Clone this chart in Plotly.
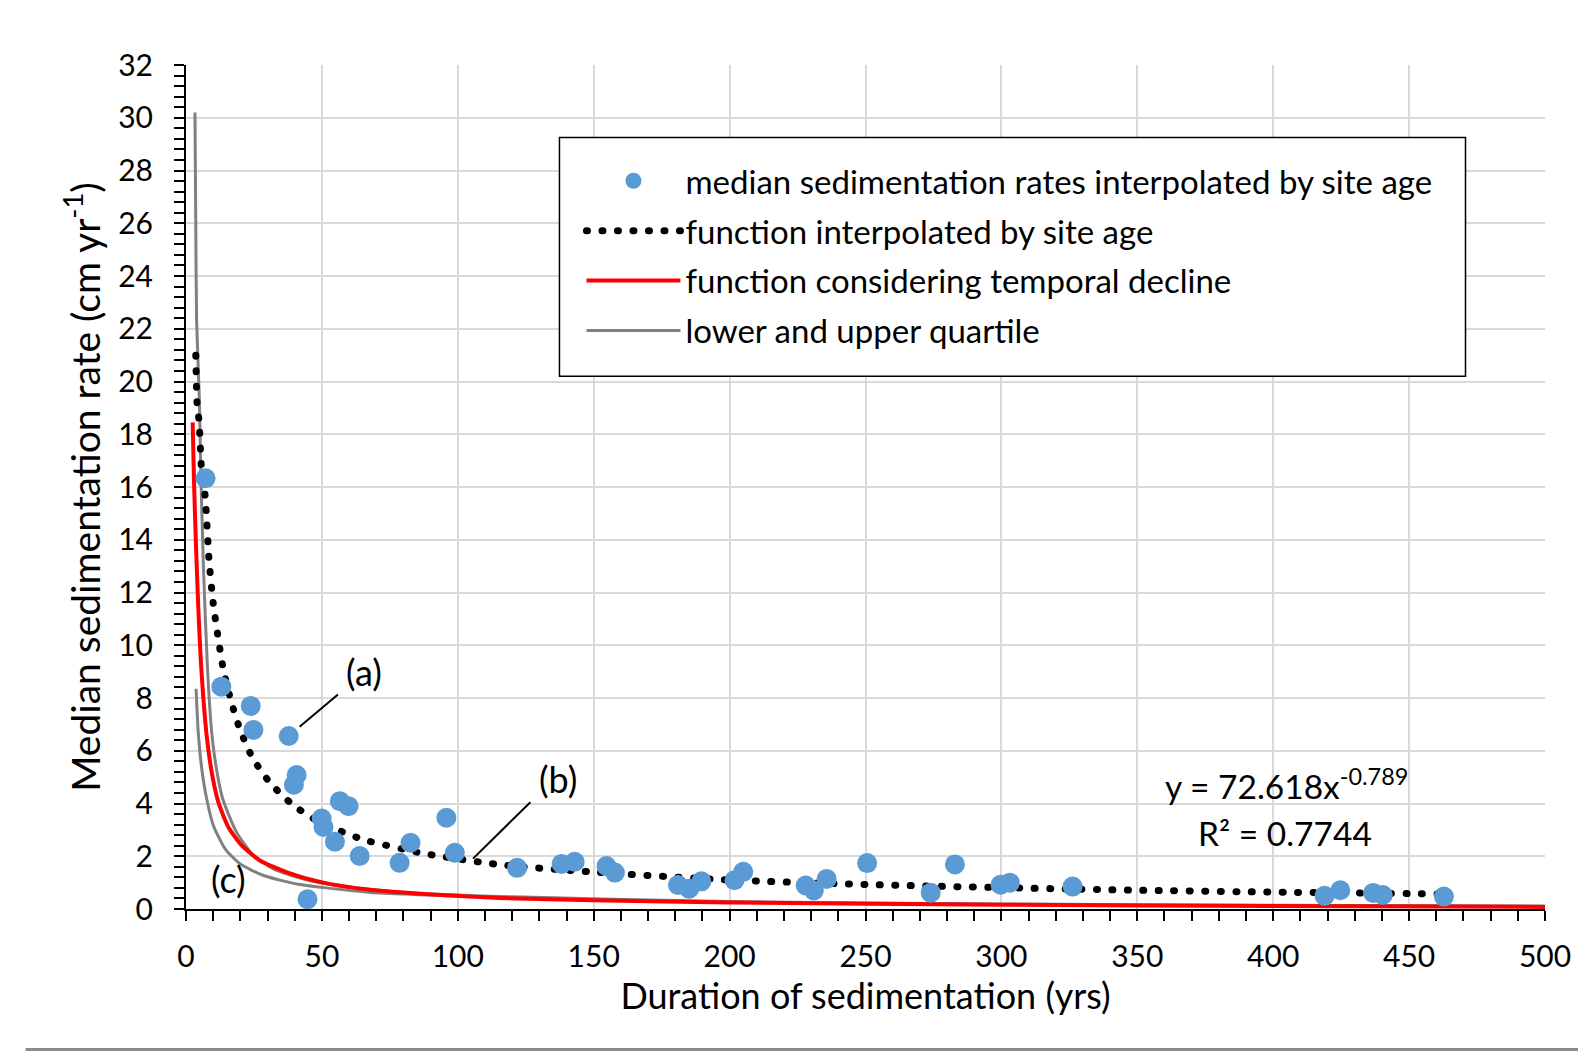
import plotly.graph_objects as go

# --- data ---
site_age = [7.2, 13.0, 23.8, 24.8, 37.8, 40.7, 39.7, 56.6, 59.8, 49.9, 50.6, 54.8, 63.9, 78.6,
            82.6, 95.8, 98.9, 44.7, 121.8, 138.2, 143.0, 154.7, 157.8, 181.0, 185.1, 189.6,
            201.8, 205.0, 228.0, 231.0, 235.7, 250.6, 274.0, 282.9, 299.7, 303.1, 326.2,
            418.9, 424.7, 436.8, 440.3, 462.8]
median_rate = [16.33, 8.43, 7.70, 6.79, 6.56, 5.08, 4.71, 4.09, 3.90, 3.43, 3.11, 2.55, 2.01, 1.75,
               2.51, 3.46, 2.13, 0.37, 1.56, 1.71, 1.79, 1.63, 1.38, 0.91, 0.77, 1.05,
               1.09, 1.41, 0.89, 0.70, 1.14, 1.74, 0.62, 1.69, 0.92, 1.00, 0.85,
               0.50, 0.71, 0.61, 0.53, 0.47]

fit_x = [3.6, 4.1, 4.8, 5.7, 7.0, 8.5, 10.0, 11.8, 13.7, 16.4, 19.8, 24.5, 31.1, 39.4, 49.0,
         65.0, 87.3, 115.5, 150, 200, 250, 300, 350, 400, 462]
fit_y = [21.0, 19.1, 18.5, 16.7, 15.7, 13.2, 11.6, 10.3, 9.1, 7.95, 6.82, 5.73, 4.76, 3.94, 3.30,
         2.64, 2.11, 1.68, 1.40, 1.10, 0.93, 0.81, 0.71, 0.64, 0.57]

decline_x = [2.45, 2.95, 3.7, 4.5, 5.4, 6.4, 7.6, 9.45, 11.9, 15.6, 20.5, 27.2, 37.1, 50.1,
             67.7, 92.3, 115.6, 150, 200, 300, 400, 500]
decline_y = [18.45, 16.2, 13.7, 11.5, 9.5, 7.97, 6.58, 5.19, 4.05, 3.10, 2.41, 1.84, 1.39, 1.01,
             0.73, 0.54, 0.42, 0.33, 0.25, 0.16, 0.11, 0.08]

lower_x = [3.7, 4.5, 5.8, 7.6, 10.1, 14.4, 19.9, 28.5, 40.7, 50.1, 67.7, 115.6, 150, 200, 300, 400, 500]
lower_y = [8.35, 6.71, 5.32, 4.18, 3.16, 2.28, 1.71, 1.27, 0.95, 0.82, 0.63, 0.44, 0.34, 0.26, 0.17, 0.12, 0.09]

upper_x = [3.3, 3.6, 3.9, 4.9, 5.4, 6.4, 7.85, 9.45, 11.0, 13.5, 18.6, 24.8, 32.1, 43.2, 55.5,
           80, 120, 200, 300, 400, 500]
upper_y = [30.2, 26.0, 22.3, 19.4, 16.8, 13.0, 9.24, 6.7, 5.44, 4.18, 2.91, 2.03, 1.52, 1.14, 0.89,
           0.63, 0.46, 0.28, 0.19, 0.14, 0.11]

x_ticks = [0, 50, 100, 150, 200, 250, 300, 350, 400, 450, 500]
y_ticks = list(range(0, 33, 2))

FONT = "Lato"

fig = go.Figure()

fig.add_trace(go.Scatter(
    x=upper_x, y=upper_y, mode="lines", name="lower and upper quartile",
    line=dict(color="#808080", width=3, shape="spline", smoothing=0.6),
    showlegend=False, legendgroup="q"))
fig.add_trace(go.Scatter(
    x=lower_x, y=lower_y, mode="lines", name="lower and upper quartile",
    line=dict(color="#808080", width=3, shape="spline", smoothing=0.6),
    legendgroup="q", legendrank=4))
fig.add_trace(go.Scatter(
    x=decline_x, y=decline_y, mode="lines", name="function considering temporal decline",
    line=dict(color="#ff0000", width=4, shape="spline", smoothing=0.6),
    legendgroup="r", legendrank=3))
fig.add_trace(go.Scatter(
    x=fit_x, y=fit_y, mode="lines", name="function interpolated by site age",
    line=dict(color="black", width=7, dash="1px,14.5px", shape="spline", smoothing=0.6),
    legendgroup="f", legendrank=2))
fig.add_trace(go.Scatter(
    x=site_age, y=median_rate, mode="markers",
    name="median sedimentation rates interpolated by site age",
    marker=dict(color="#5b9bd5", size=20, line=dict(width=0)),
    legendgroup="m", legendrank=1))

axis_common = dict(
    showline=True, linecolor="black", linewidth=2,
    ticks="outside", ticklen=10, tickwidth=2, tickcolor="black",
    showgrid=True, gridcolor="#d9d9d9", gridwidth=2, zeroline=False,
    tickfont=dict(family=FONT, size=30, color="black"),
    automargin=False,
)

fig.update_xaxes(
    range=[0, 500], tickvals=x_ticks, ticktext=[str(v) for v in x_ticks],
    minor=dict(dtick=10, ticks="outside", ticklen=10, tickwidth=2, tickcolor="black", showgrid=False),
    title=dict(text="Duration of sedimentation (yrs)", font=dict(family=FONT, size=36, color="black"), standoff=4),
    ticklabelstandoff=10,
    **axis_common)
fig.update_yaxes(
    range=[0, 32], tickvals=y_ticks, ticktext=[str(v) for v in y_ticks],
    minor=dict(dtick=0.4, ticks="outside", ticklen=10, tickwidth=2, tickcolor="black", showgrid=False),
    title=dict(text="Median sedimentation rate (cm yr<sup>-1</sup>)", font=dict(family=FONT, size=39, color="black"), standoff=6),
    ticklabelstandoff=15,
    **axis_common)

# annotation leader lines and labels
fig.add_shape(type="line", xref="x", yref="y", x0=41.8, y0=6.91, x1=55.9, y1=8.13,
              line=dict(color="black", width=2))
fig.add_shape(type="line", xref="x", yref="y", x0=105.6, y0=1.91, x1=126.7, y1=4.05,
              line=dict(color="black", width=2))
for txt, ax_, ay_ in [("(a)", 65.4, 8.98), ("(b)", 136.7, 4.92), ("(c)", 15.6, 1.15)]:
    fig.add_annotation(x=ax_, y=ay_, xref="x", yref="y", text=txt, showarrow=False,
                       font=dict(family=FONT, size=36, color="black"))
fig.add_annotation(x=404.8, y=4.75, xref="x", yref="y", text="y = 72.618x<sup>-0.789</sup>",
                   showarrow=False, font=dict(family=FONT, size=33.5, color="black"))
fig.add_annotation(x=404.5, y=2.9, xref="x", yref="y", text="R² = 0.7744",
                   showarrow=False, font=dict(family=FONT, size=33.5, color="black"))

# legend frame
fig.add_shape(type="rect", xref="paper", yref="paper", x0=0.2748, x1=0.9415, y0=0.6313, y1=0.914,
              fillcolor="white", line=dict(color="black", width=1.5), layer="above")

# faint frame line at the bottom of the original image
fig.add_shape(type="line", xref="paper", yref="paper", x0=-0.118, x1=1.03, y0=-0.1665, y1=-0.1665,
              line=dict(color="#8c8c8c", width=3))

fig.update_layout(
    width=1578, height=1052,
    margin=dict(l=186, r=33, t=65, b=143, autoexpand=False),
    paper_bgcolor="white", plot_bgcolor="white",
    font=dict(family=FONT, color="black"),
    legend=dict(
        x=0.2748, y=0.896, xanchor="left", yanchor="top",
        bgcolor="rgba(0,0,0,0)", borderwidth=0,
        font=dict(family=FONT, size=33, color="black"),
        traceorder="grouped", tracegroupgap=4,
        itemwidth=94, indentation=22,
    ),
)

post = """
document.body.style.margin='0';
var gd = document.getElementById('{plot_id}');
function fixDots(){
  gd.querySelectorAll('path').forEach(function(p){
    var d = p.style.strokeDasharray;
    if (d && d.indexOf('1px') === 0) { p.style.strokeLinecap = 'round'; }
  });
}
fixDots();
gd.on('plotly_afterplot', fixDots);
"""
fig.write_html("out.html", post_script=post, config={"displayModeBar": False})
